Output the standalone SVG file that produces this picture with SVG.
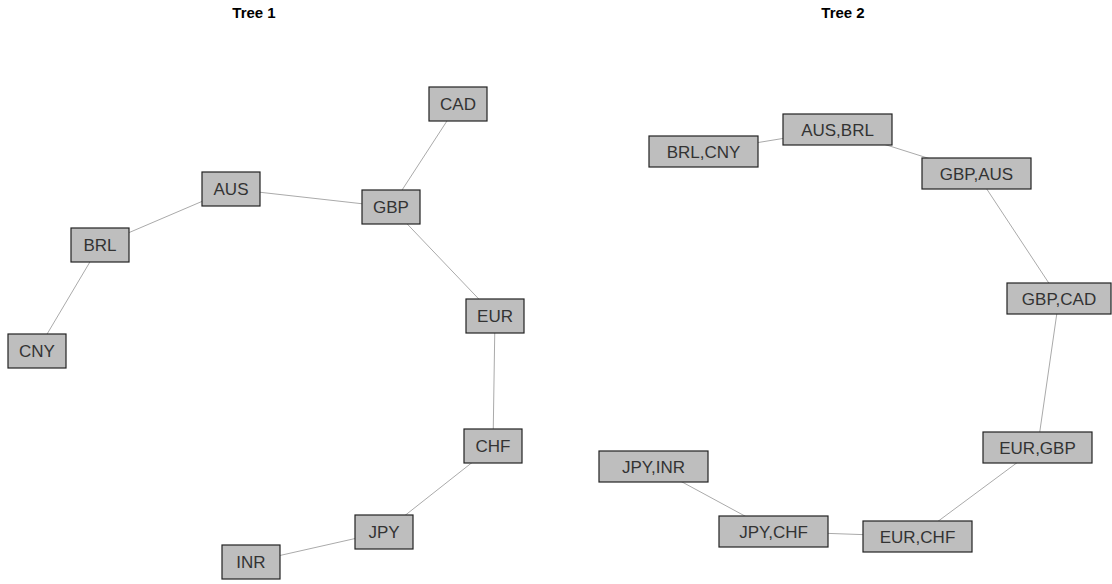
<svg xmlns="http://www.w3.org/2000/svg" width="1112" height="584" viewBox="0 0 1112 584">
<style>
.title{font-family:"Liberation Sans",Arial,sans-serif;font-weight:bold;font-size:15px;fill:#000;text-anchor:middle}
.box{fill:#BEBEBE;stroke:#222;stroke-width:1.2}
.lbl{font-family:"Liberation Sans",Arial,sans-serif;font-size:17px;fill:#333;text-anchor:middle}
.edge{stroke:#AAAAAA;stroke-width:1;fill:none}
</style>
<rect width="1112" height="584" fill="#fff"/>
<text class="title" x="254" y="18">Tree 1</text>
<text class="title" x="843" y="18">Tree 2</text>
<g id="connectors">
<line class="edge" x1="458" y1="104" x2="391" y2="207"/>
<line class="edge" x1="231" y1="189" x2="391" y2="207"/>
<line class="edge" x1="231" y1="189" x2="100" y2="245"/>
<line class="edge" x1="100" y1="245" x2="37" y2="351"/>
<line class="edge" x1="391" y1="207" x2="495" y2="316"/>
<line class="edge" x1="495" y1="316" x2="493" y2="446"/>
<line class="edge" x1="493" y1="446" x2="384" y2="532"/>
<line class="edge" x1="384" y1="532" x2="251" y2="562"/>
<line class="edge" x1="703.5" y1="151.5" x2="837.5" y2="129.5"/>
<line class="edge" x1="837.5" y1="129.5" x2="976.5" y2="173.5"/>
<line class="edge" x1="976.5" y1="173.5" x2="1059" y2="298.5"/>
<line class="edge" x1="1059" y1="298.5" x2="1037.5" y2="447.5"/>
<line class="edge" x1="1037.5" y1="447.5" x2="917.5" y2="536.5"/>
<line class="edge" x1="917.5" y1="536.5" x2="773.5" y2="531.5"/>
<line class="edge" x1="773.5" y1="531.5" x2="653.5" y2="466.5"/>
</g>
<g id="t1-CAD"><rect class="box" x="429" y="87" width="58" height="34"/><text class="lbl" x="458" y="110">CAD</text></g>
<g id="t1-AUS"><rect class="box" x="202" y="172" width="58" height="34"/><text class="lbl" x="231" y="195">AUS</text></g>
<g id="t1-GBP"><rect class="box" x="362" y="190" width="58" height="34"/><text class="lbl" x="391" y="213">GBP</text></g>
<g id="t1-BRL"><rect class="box" x="71" y="228" width="58" height="34"/><text class="lbl" x="100" y="251">BRL</text></g>
<g id="t1-CNY"><rect class="box" x="8" y="334" width="58" height="34"/><text class="lbl" x="37" y="357">CNY</text></g>
<g id="t1-EUR"><rect class="box" x="466" y="299" width="58" height="34"/><text class="lbl" x="495" y="322">EUR</text></g>
<g id="t1-CHF"><rect class="box" x="464" y="429" width="58" height="34"/><text class="lbl" x="493" y="452">CHF</text></g>
<g id="t1-JPY"><rect class="box" x="355" y="515" width="58" height="34"/><text class="lbl" x="384" y="538">JPY</text></g>
<g id="t1-INR"><rect class="box" x="222" y="545" width="58" height="34"/><text class="lbl" x="251" y="568">INR</text></g>
<g id="t2-BRL-CNY"><rect class="box" x="649" y="136" width="109" height="31"/><text class="lbl" x="703.5" y="157.5">BRL,CNY</text></g>
<g id="t2-AUS-BRL"><rect class="box" x="783" y="114" width="109" height="31"/><text class="lbl" x="837.5" y="135.5">AUS,BRL</text></g>
<g id="t2-GBP-AUS"><rect class="box" x="922" y="158" width="109" height="31"/><text class="lbl" x="976.5" y="179.5">GBP,AUS</text></g>
<g id="t2-GBP-CAD"><rect class="box" x="1007" y="283" width="104" height="31"/><text class="lbl" x="1059" y="304.5">GBP,CAD</text></g>
<g id="t2-EUR-GBP"><rect class="box" x="983" y="432" width="109" height="31"/><text class="lbl" x="1037.5" y="453.5">EUR,GBP</text></g>
<g id="t2-JPY-INR"><rect class="box" x="599" y="451" width="109" height="31"/><text class="lbl" x="653.5" y="472.5">JPY,INR</text></g>
<g id="t2-JPY-CHF"><rect class="box" x="719" y="516" width="109" height="31"/><text class="lbl" x="773.5" y="537.5">JPY,CHF</text></g>
<g id="t2-EUR-CHF"><rect class="box" x="863" y="521" width="109" height="31"/><text class="lbl" x="917.5" y="542.5">EUR,CHF</text></g>
</svg>
